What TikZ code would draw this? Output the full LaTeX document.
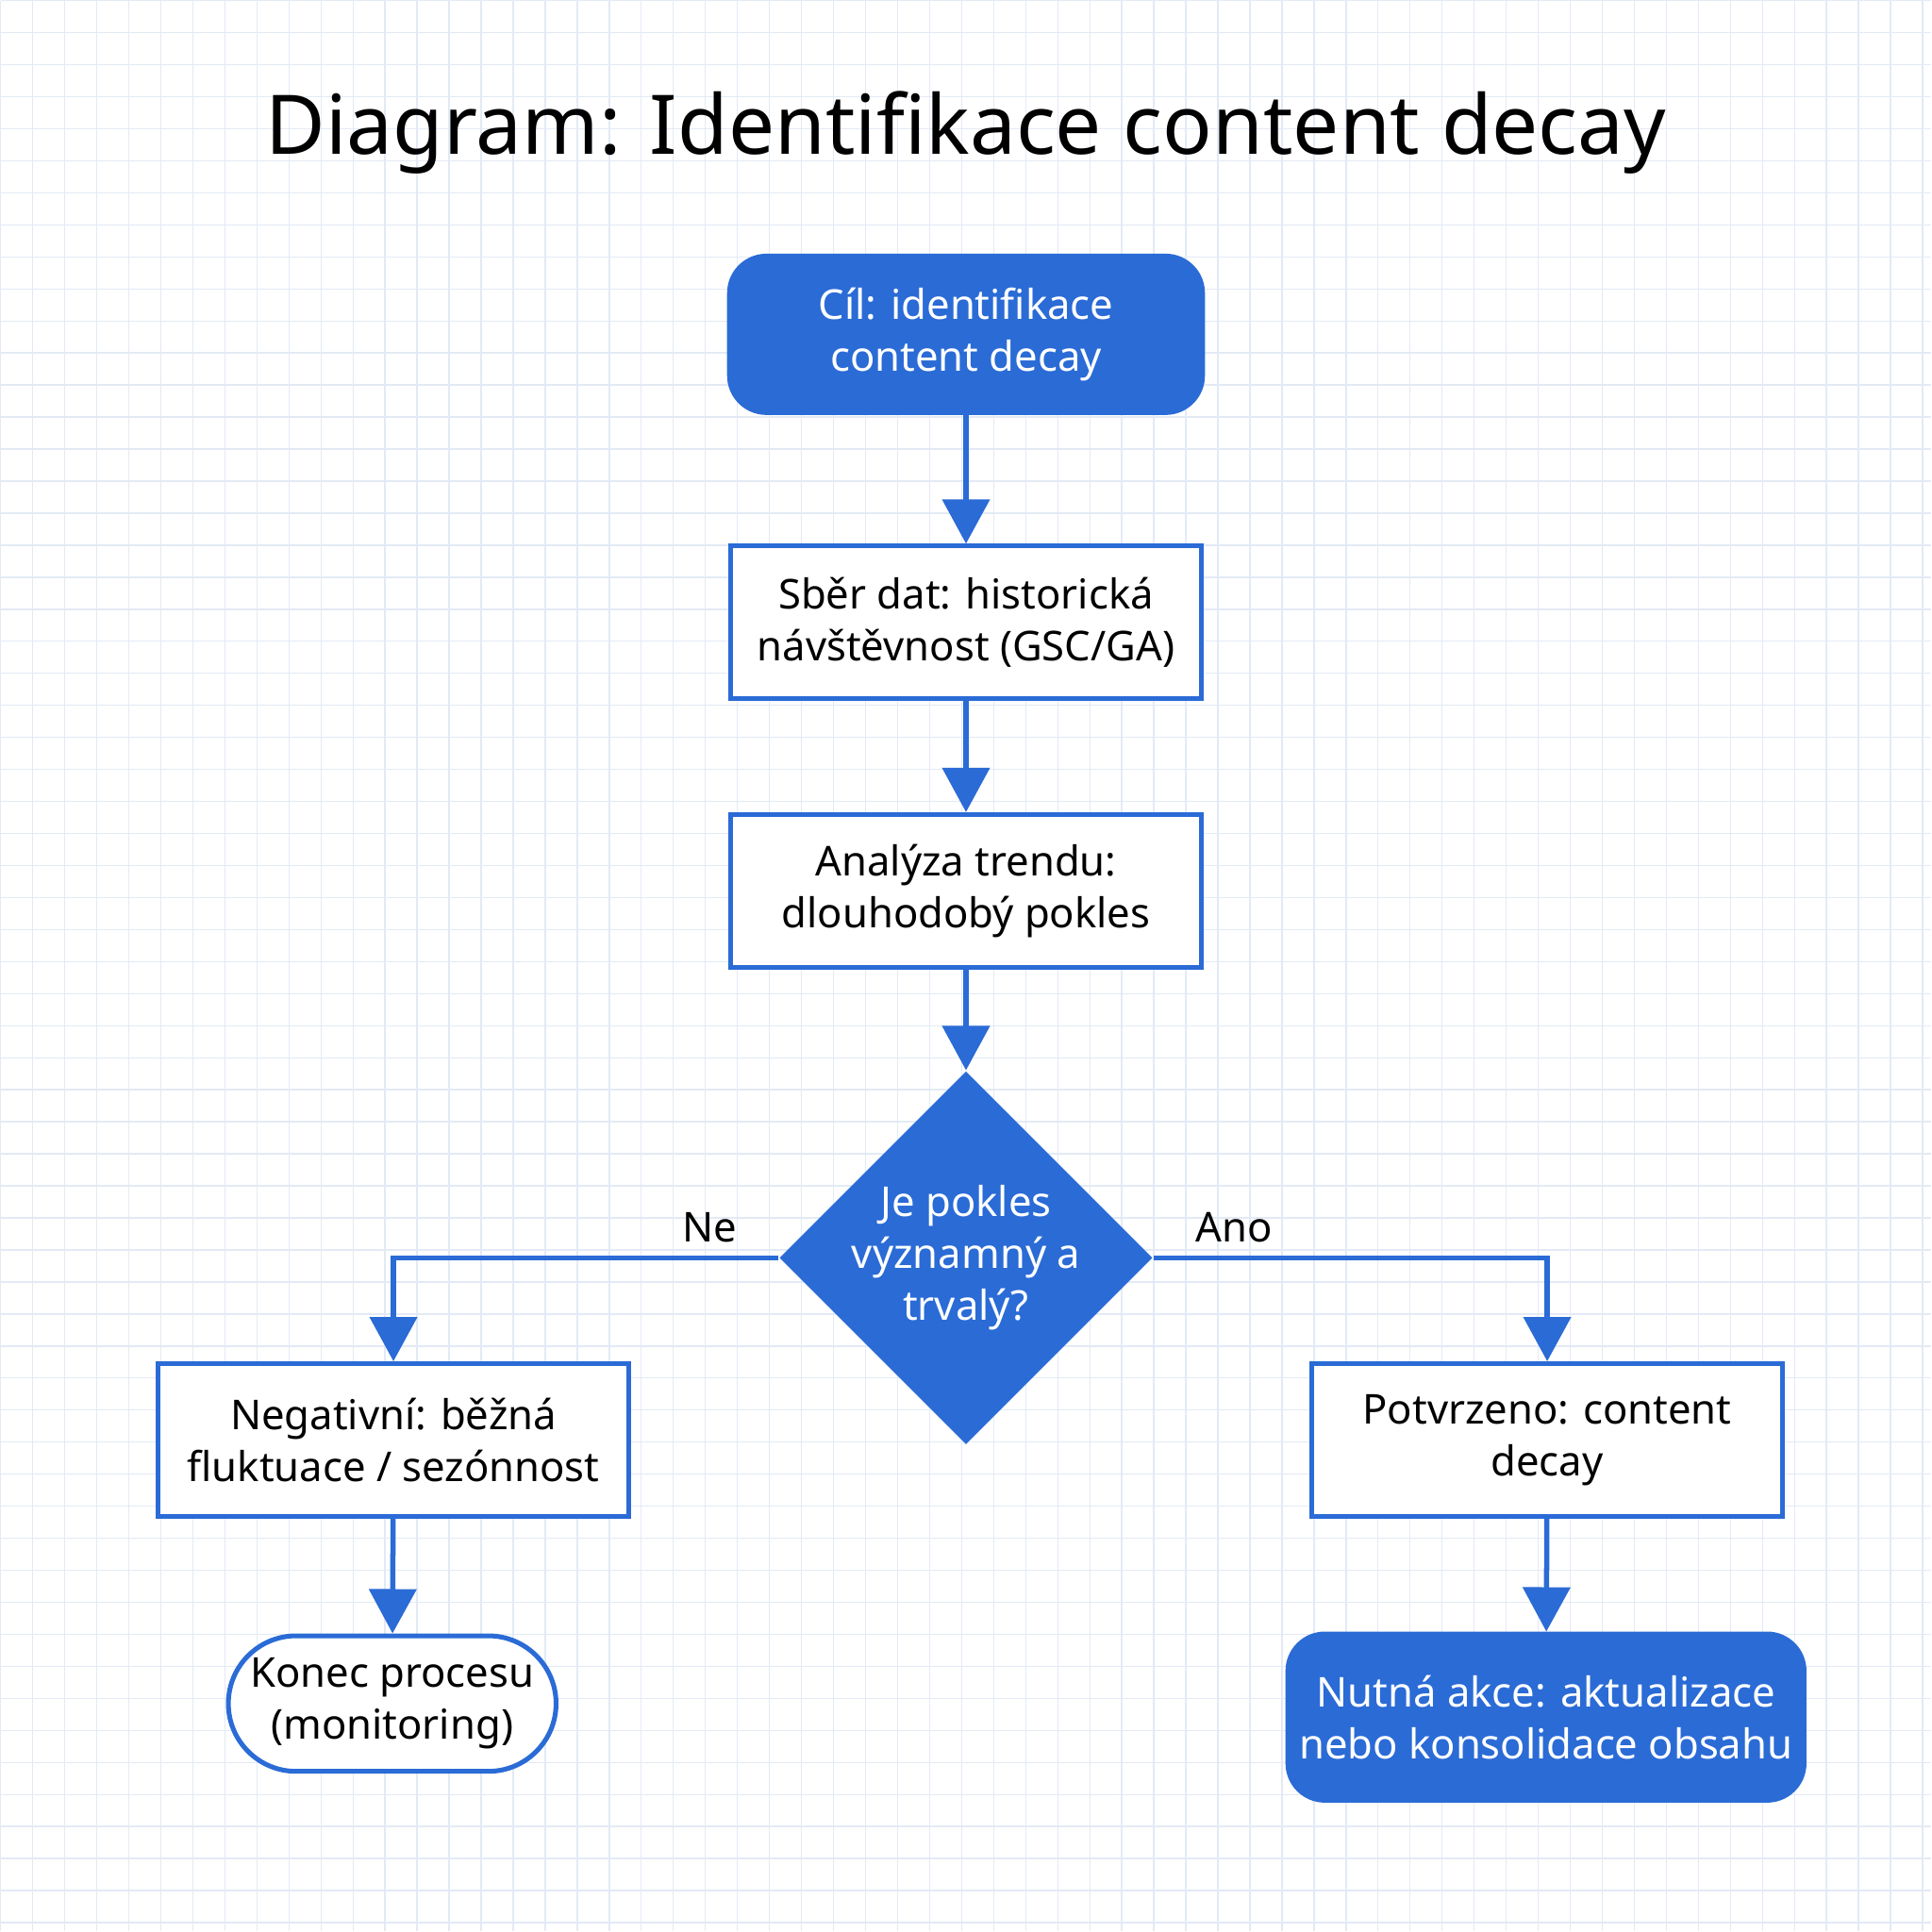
\documentclass[tikz,border=0pt]{standalone}
\usepackage{fontspec}
\setmainfont{Noto Sans}
\usetikzlibrary{shapes.geometric,arrows.meta}
\definecolor{bl}{HTML}{2A6BD6}
\definecolor{gr}{HTML}{E3EAF5}
\begin{document}
\begin{tikzpicture}[x=0.01cm,y=-0.01cm,
  box/.style={draw=bl,line width=1.1pt,fill=white,minimum width=3.82cm,minimum height=1.24cm,align=center,font=\fontsize{9.5}{12}\selectfont,inner sep=0pt},
  fbox/.style={box,fill=bl,text=white,rounded corners=0.3cm},
  arr/.style={draw=bl,line width=1.2pt,-{Triangle[width=0.38cm,length=0.36cm]}},
  lab/.style={font=\fontsize{9.5}{12}\selectfont}]
\fill[white] (0,0) rectangle (1568,1568);
\draw[gr,line width=0.3pt] (0,0) grid[step=0.26cm] (1568,1568);
\node[font=\fontsize{19}{22}\selectfont] (title) at (784,107) {Diagram: Identifikace content decay};
\node[fbox,minimum width=3.84cm,minimum height=1.27cm] (s) at (784,271) {Cíl: identifikace\\content decay};
\node[box] (b2) at (784,505) {Sběr dat: historická\\návštěvnost (GSC/GA)};
\node[box] (b3) at (784,723) {Analýza trendu:\\dlouhodobý pokles};
\node[diamond,fill=bl,text=white,minimum width=2.9cm,minimum height=2.86cm,inner sep=0pt,align=center,font=\fontsize{9.5}{12}\selectfont] (d) at (784,1021) {Je pokles\\významný a\\trvalý?};
\node[box] (l) at (319,1169) {Negativní: běžná\\fluktuace / sezónnost};
\node[box] (r) at (1256,1169) {Potvrzeno: content\\decay};
\node[box,minimum width=2.66cm,minimum height=1.1cm,rounded corners=0.55cm] (le) at (318,1383) {Konec procesu\\(monitoring)};
\node[fbox,minimum width=4.19cm,minimum height=1.35cm] (re) at (1255,1394) {Nutná akce: aktualizace\\nebo konsolidace obsahu};
\draw[arr] (s) -- (b2);
\draw[arr] (b2) -- (b3);
\draw[arr] (b3) -- (d);
\draw[arr] (d.west) -| (l.north);
\draw[arr] (d.east) -| (r.north);
\draw[arr] (l) -- (le);
\draw[arr] (r) -- (re);
\node[lab] (ne) at (576,996) {Ne};
\node[lab] (ano) at (1002,996) {Ano};
\end{tikzpicture}
\end{document}
